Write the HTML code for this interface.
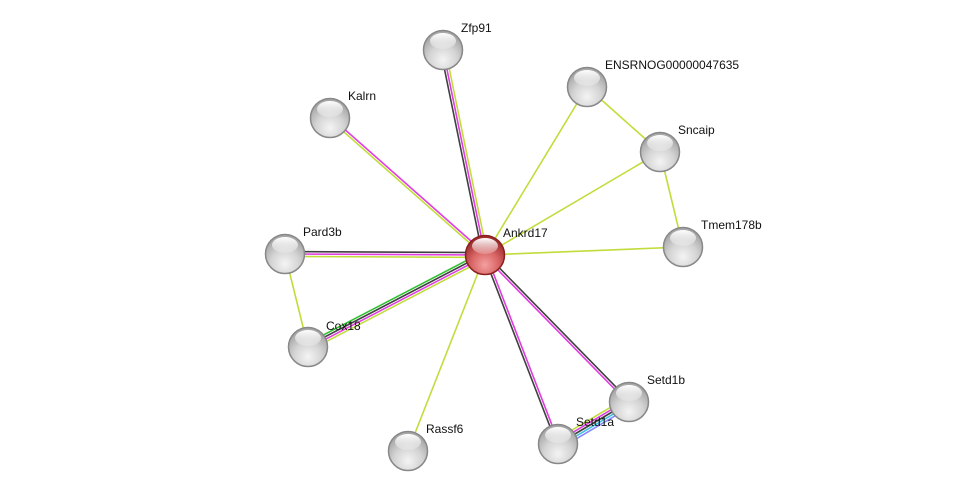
<!DOCTYPE html>
<html><head><meta charset="utf-8"><style>
html,body{margin:0;padding:0;background:#fff;width:975px;height:496px;overflow:hidden}
svg text{font-family:"Liberation Sans",Arial,sans-serif;font-size:12px;fill:#111}
</style></head><body>
<svg id="s" width="975" height="496" xmlns="http://www.w3.org/2000/svg">
<defs>
<radialGradient id="g" cx="50%" cy="75%" r="65%">
<stop offset="0" stop-color="#f4f4f4"/><stop offset="0.55" stop-color="#d4d4d4"/><stop offset="1" stop-color="#a8a8a8"/>
</radialGradient>
<radialGradient id="r" cx="50%" cy="75%" r="65%">
<stop offset="0" stop-color="#f4a0a0"/><stop offset="0.55" stop-color="#d86464"/><stop offset="1" stop-color="#a03030"/>
</radialGradient>
<linearGradient id="hl" x1="0" y1="0" x2="0" y2="1"><stop offset="0" stop-color="#fff" stop-opacity="1"/><stop offset="1" stop-color="#fff" stop-opacity="0.2"/></linearGradient>
</defs>
<g id="edges"></g><g id="nodes"></g>
</svg>
<script>
var N={A:[485,255],Z:[443,50],K:[330,118],E:[587,87],S:[660,152],T:[683,247],P:[285,254],C:[308,347],R:[408,451],S1a:[558,444],S1b:[629,402]};
var Y="#c2dc3c",M="#e03ce0",D="#404040",G="#30c030",Cy="#40c0e0",B="#8888ff";
var E=[["A","Z",[Y,M,D]],["A","K",[M,Y]],["A","E",[Y]],["A","S",[Y]],["A","T",[Y]],["A","P",[D,M,Y]],["A","C",[G,D,M,Y]],["A","R",[Y]],["A","S1a",[D,M]],["A","S1b",[M,D]],["S1b","S1a",[Y,M,D,Cy,B]],["P","C",[Y]],["E","S",[Y]],["S","T",[Y]]];
var ns="http://www.w3.org/2000/svg",eg=document.getElementById("edges"),ng=document.getElementById("nodes");
E.forEach(function(e){var a=N[e[0]],b=N[e[1]],dx=b[0]-a[0],dy=b[1]-a[1],L=Math.hypot(dx,dy),px=-dy/L,py=dx/L,n=e[2].length;
e[2].forEach(function(c,i){var o=-(i-(n-1)/2)*2.4;var l=document.createElementNS(ns,"line");
l.setAttribute("x1",a[0]+px*o);l.setAttribute("y1",a[1]+py*o);l.setAttribute("x2",b[0]+px*o);l.setAttribute("y2",b[1]+py*o);
l.setAttribute("stroke",c);l.setAttribute("stroke-width","1.6");eg.appendChild(l);});});
var lab={A:["Ankrd17",18,-18],Z:["Zfp91",18,-18],K:["Kalrn",18,-18],E:["ENSRNOG00000047635",18,-18],S:["Sncaip",18,-18],T:["Tmem178b",18,-18],P:["Pard3b",18,-18],C:["Cox18",18,-17],R:["Rassf6",18,-18],S1a:["Setd1a",18,-18],S1b:["Setd1b",18,-18]};
for(var k in N){var p=N[k],c=document.createElementNS(ns,"circle");c.setAttribute("cx",p[0]);c.setAttribute("cy",p[1]);c.setAttribute("r",19.5);
c.setAttribute("fill",k=="A"?"url(#r)":"url(#g)");c.setAttribute("stroke",k=="A"?"#8a2020":"#888");c.setAttribute("stroke-width","1.5");ng.appendChild(c);
var h=document.createElementNS(ns,"ellipse");h.setAttribute("cx",p[0]);h.setAttribute("cy",p[1]-9);h.setAttribute("rx",13);h.setAttribute("ry",8);h.setAttribute("fill","url(#hl)");ng.appendChild(h);
var t=document.createElementNS(ns,"text");t.setAttribute("x",p[0]+lab[k][1]);t.setAttribute("y",p[1]+lab[k][2]);t.textContent=lab[k][0];ng.appendChild(t);}
</script>
</body></html>
